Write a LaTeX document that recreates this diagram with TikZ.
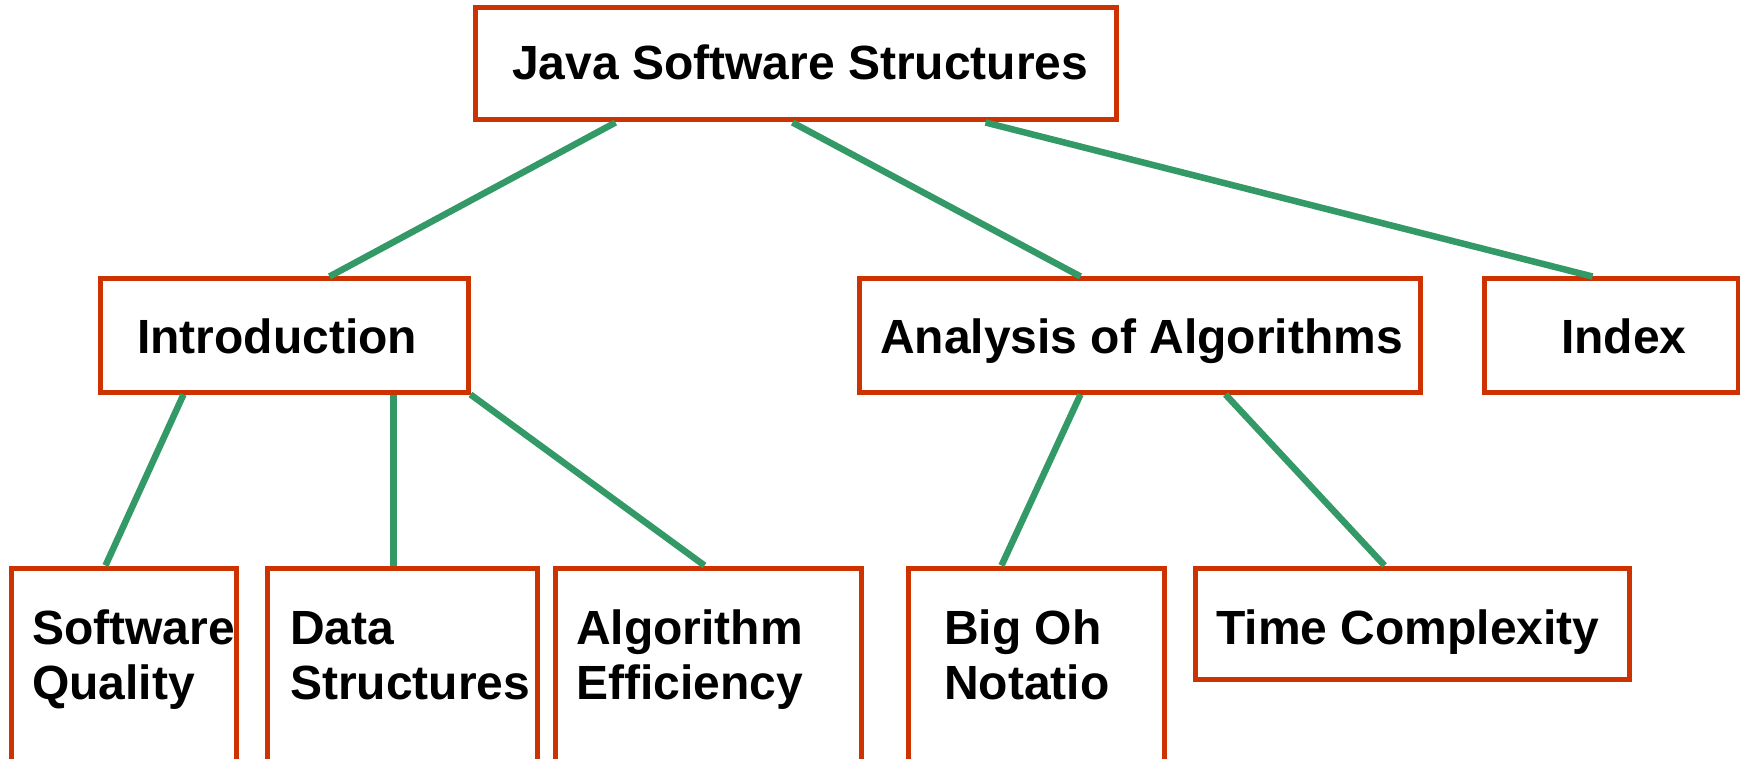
\documentclass[tikz,border=0pt]{standalone}
\usepackage{fontspec}
\setmainfont{Liberation Sans}
\definecolor{boxred}{RGB}{204,51,0}
\definecolor{linkgreen}{RGB}{51,153,102}
\tikzset{
  box/.style={draw=boxred, line width=5pt, fill=white, rectangle, inner sep=0pt},
  txt/.style={font=\fontsize{48}{55}\selectfont\bfseries, inner sep=0pt, anchor=base west},
  link/.style={draw=linkgreen, line width=6.5pt}
}
\begin{document}
\begin{tikzpicture}[x=1pt,y=-1pt]
\clip (0,0) rectangle (1740,759);
\fill[white] (0,0) rectangle (1740,759);
% boxes: centre from corners
\node[box, minimum width=641pt, minimum height=112pt] (top) at (795.5,64) {};
\node[box, minimum width=368pt, minimum height=113pt] (intro) at (284,335.5) {};
\node[box, minimum width=561pt, minimum height=113pt] (anal) at (1139.5,335.5) {};
\node[box, minimum width=254pt, minimum height=113pt] (index) at (1611,335.5) {};
\node[box, minimum width=225pt, minimum height=194pt] (sq) at (123.5,665) {};
\node[box, minimum width=270pt, minimum height=194pt] (ds) at (402,665) {};
\node[box, minimum width=306pt, minimum height=194pt] (ae) at (708,665) {};
\node[box, minimum width=256pt, minimum height=194pt] (bo) at (1036,665) {};
\node[box, minimum width=434pt, minimum height=111pt] (tc) at (1412,623.5) {};
% texts
\node[txt] (ttop) at (512,80) {Java Software Structures};
\node[txt] (tintro) at (137,353) {Introduction};
\node[txt] (tanal) at (880,353) {Analysis of Algorithms};
\node[txt] (tindex) at (1561,353) {Index};
\node[txt] (tsq) at (32,644) {Software};
\node[txt] (tsq2) at (32,699) {Quality};
\node[txt] (tds) at (290,644) {Data};
\node[txt] (tds2) at (290,699) {Structures};
\node[txt] (tae) at (576,644) {Algorithm};
\node[txt] (tae2) at (576,699) {Efficiency};
\node[txt] (tbo) at (944,644) {Big Oh};
\node[txt] (tbo2) at (944,699) {Notatio};
\node[txt] (ttc) at (1216,644) {Time Complexity};
% connectors
\draw[link] ([xshift=143pt]top.south west) -- ([xshift=232pt]intro.north west);
\draw[link] ([xshift=320pt]top.south west) -- ([xshift=224pt]anal.north west);
\draw[link] ([xshift=513pt]top.south west) -- ([xshift=111pt]index.north west);
\draw[link] ([xshift=86pt]intro.south west) -- ([xshift=97pt]sq.north west);
\draw[link] ([xshift=296pt]intro.south west) -- ([xshift=129pt]ds.north west);
\draw[link] (intro.south east) -- ([xshift=152pt]ae.north west);
\draw[link] ([xshift=224pt]anal.south west) -- ([xshift=96pt]bo.north west);
\draw[link] ([xshift=369pt]anal.south west) -- ([xshift=192pt]tc.north west);
\end{tikzpicture}
\end{document}
